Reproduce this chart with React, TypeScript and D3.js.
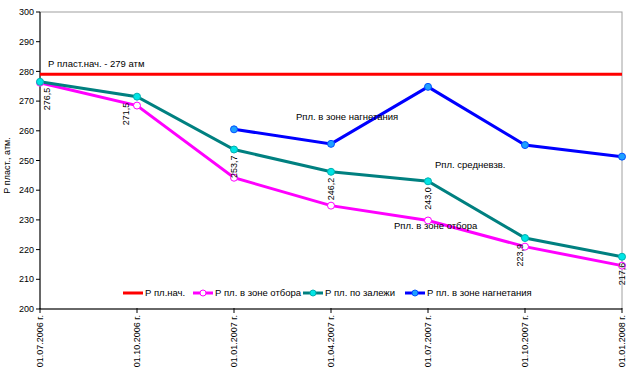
import React from 'react'
import * as d3 from 'd3'

const dates = [
  '01.07.2006 г.',
  '01.10.2006 г.',
  '01.01.2007 г.',
  '01.04.2007 г.',
  '01.07.2007 г.',
  '01.10.2007 г.',
  '01.01.2008 г.',
]
const initialP = [279, 279, 279, 279, 279, 279, 279]
const otborP = [276.2, 268.5, 244.2, 234.8, 229.8, 221.0, 214.6]
const zalezhP = [276.5, 271.5, 253.7, 246.2, 243.0, 223.9, 217.6]
const nagnetP = [null, null, 260.5, 255.6, 274.8, 255.2, 251.3]
const zalezhLabels = ['276,5', '271,5', '253,7', '246,2', '243,0', '223,9', '217,6']
const labelShift = [7, -11, 0, 0, 0, -5, 0]
const yTicks = [200, 210, 220, 230, 240, 250, 260, 270, 280, 290, 300]

const W = 635
const H = 374
const margin = { left: 40, right: 13, top: 12, bottom: 65 }
const FONT = '"Liberation Sans", Arial, sans-serif'
const FS = 9.5

const series = [
  { name: 'Р пл.нач.', values: initialP, color: '#ff0000', marker: null },
  { name: 'Р пл. в зоне отбора', values: otborP, color: '#ff00ff', marker: { fill: '#ffffff', stroke: '#ff00ff' } },
  { name: 'Р пл. по залежи', values: zalezhP, color: '#008080', marker: { fill: '#00e5e5', stroke: '#00b0b0' } },
  { name: 'Р пл. в зоне нагнетания', values: nagnetP, color: '#0000ff', marker: { fill: '#1ea0ff', stroke: '#0050ff' } },
]

export default function App() {
  const x = d3
    .scalePoint()
    .domain(dates)
    .range([margin.left, W - margin.right])
  const y = d3
    .scaleLinear()
    .domain([200, 300])
    .range([H - margin.bottom, margin.top])

  const line = d3
    .line<number | null>()
    .defined(d => d != null)
    .x((_, i) => x(dates[i]) as number)
    .y(d => y(d as number))

  const legendX = [123, 193, 303, 405]
  const legendY = 293

  return (
    <svg
      width={W}
      height={H}
      style={{ position: 'absolute', left: 0, top: 0, background: '#fff' }}
      fontFamily={FONT}
    >
      {/* plot frame */}
      <rect
        x={margin.left}
        y={margin.top}
        width={W - margin.left - margin.right}
        height={H - margin.top - margin.bottom}
        fill="none"
        stroke="#a0a0a0"
      />
      {/* y axis */}
      <line x1={margin.left} x2={margin.left} y1={margin.top} y2={y(200)} stroke="#000" />
      {yTicks.map(t => (
        <g key={t}>
          <line x1={margin.left - 4} x2={margin.left} y1={y(t)} y2={y(t)} stroke="#000" />
          <text x={margin.left - 6} y={y(t)} dy="0.35em" textAnchor="end" fontSize={9}>
            {t}
          </text>
        </g>
      ))}
      <text
        transform={`translate(10,${(margin.top + y(200)) / 2 + 5}) rotate(-90)`}
        textAnchor="middle"
        fontSize={9}
      >
        Р пласт., атм.
      </text>
      {/* x axis */}
      <line x1={margin.left} x2={W - margin.right} y1={y(200)} y2={y(200)} stroke="#000" />
      {dates.map(d => (
        <g key={d}>
          <line x1={x(d)} x2={x(d)} y1={y(200) - 1} y2={y(200) + 4} stroke="#000" />
          <text
            transform={`translate(${x(d)},${y(200) + 6}) rotate(-90)`}
            textAnchor="end"
            dy="0.35em"
            fontSize={9}
          >
            {d}
          </text>
        </g>
      ))}

      {/* series lines */}
      {series.map(s => (
        <path key={s.name} d={line(s.values) || ''} fill="none" stroke={s.color} strokeWidth={3} />
      ))}
      {series.map(s =>
        s.marker
          ? s.values.map((v, i) =>
              v == null ? null : (
                <circle
                  key={s.name + i}
                  cx={x(dates[i])}
                  cy={y(v)}
                  r={3.5}
                  fill={s.marker!.fill}
                  stroke={s.marker!.stroke}
                  strokeWidth={1}
                />
              )
            )
          : null
      )}

      {/* data labels */}
      {zalezhP.map((v, i) => (
        <text
          key={'lab' + i}
          transform={`translate(${(x(dates[i]) as number) + labelShift[i]},${y(v) + 6}) rotate(-90)`}
          textAnchor="end"
          dy="0.35em"
          fontSize={9}
        >
          {zalezhLabels[i]}
        </text>
      ))}

      {/* annotations */}
      <text x={48} y={y(279) - 7} fontSize={FS}>Р пласт.нач. - 279 атм</text>
      <text x={296} y={120} fontSize={FS}>Рпл. в зоне нагнетания</text>
      <text x={435} y={168} fontSize={FS}>Рпл. средневзв.</text>
      <text x={394} y={229} fontSize={FS}>Рпл. в зоне отбора</text>

      {/* legend */}
      {series.map((s, i) => (
        <g key={'leg' + i} transform={`translate(${legendX[i]},${legendY})`}>
          <line x1={0} x2={20} y1={0} y2={0} stroke={s.color} strokeWidth={3} />
          {s.marker && (
            <circle cx={10} cy={0} r={3} fill={s.marker.fill} stroke={s.marker.stroke} />
          )}
          <text x={22} y={0} dy="0.35em" fontSize={FS}>
            {s.name}
          </text>
        </g>
      ))}
    </svg>
  )
}
